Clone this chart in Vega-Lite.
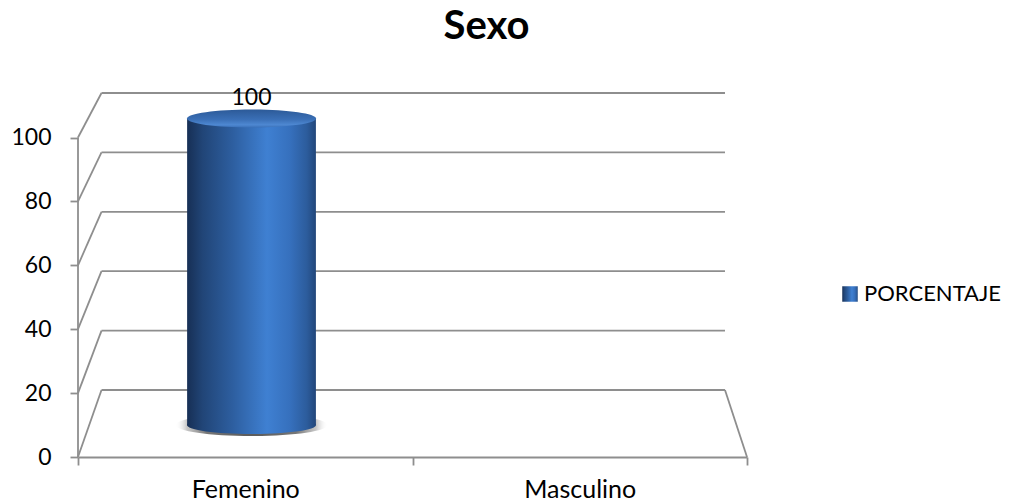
{
  "$schema": "https://vega.github.io/schema/vega-lite/v6.json",
  "width": 669,
  "height": 377,
  "autosize": {"type": "none"},
  "padding": {"left": 78, "top": 80, "right": 262, "bottom": 46},
  "background": "white",
  "title": {"text": "Sexo", "font": "Lato", "fontSize": 40, "fontWeight": "bold", "color": "#000000", "anchor": "middle", "dx": 74, "offset": 1, "baseline": "alphabetic"},
  "config": {"view": {"stroke": null}},
  "data": {"values": [{"sexo": "Femenino", "porcentaje": 100}, {"sexo": "Masculino", "porcentaje": 0}]},
  "resolve": {"scale": {"x": "independent", "y": "independent", "color": "independent"}},
  "layer": [
    {
      "data": {"values": [{"v": 0}, {"v": 20}, {"v": 40}, {"v": 60}, {"v": 80}, {"v": 100}]},
      "mark": {"type": "rule", "color": "#8e8e8e", "strokeWidth": 1.8},
      "encoding": {
        "x": {"datum": 0, "type": "quantitative", "scale": {"domain": [-0.0754, 2.0706], "nice": false, "zero": false}, "axis": null},
        "x2": {"datum": 2},
        "y": {"field": "v", "type": "quantitative", "scale": {"domain": [-22.56, 104.38], "nice": false, "zero": false}, "axis": null}
      }
    },
    {
      "data": {"values": [{"v": 0}, {"v": 20}, {"v": 40}, {"v": 60}, {"v": 80}, {"v": 100}]},
      "mark": {"type": "rule", "color": "#8e8e8e", "strokeWidth": 1.8},
      "encoding": {
        "x": {"datum": 0, "type": "quantitative", "scale": {"domain": [0, 2], "nice": false, "zero": false}, "axis": null},
        "y": {"field": "v", "type": "quantitative", "scale": {"domain": [0, 118], "nice": false, "zero": false}, "axis": null},
        "x2": {"value": {"expr": "scale('layer_0_x', 0)"}},
        "y2": {"value": {"expr": "scale('layer_0_y', datum.v)"}}
      }
    },
    {
      "data": {"values": [{"v": 0}]},
      "mark": {"type": "rule", "color": "#8e8e8e", "strokeWidth": 1.8},
      "encoding": {
        "x": {"datum": 2, "type": "quantitative", "scale": {"domain": [0, 2], "nice": false, "zero": false}, "axis": null},
        "y": {"field": "v", "type": "quantitative", "scale": {"domain": [0, 118], "nice": false, "zero": false}, "axis": null},
        "x2": {"value": {"expr": "scale('layer_0_x', 2)"}},
        "y2": {"value": {"expr": "scale('layer_0_y', datum.v)"}}
      }
    },
    {
      "data": {"values": [{"v": 0}]},
      "mark": {"type": "rule", "color": "#8e8e8e", "strokeWidth": 1.8},
      "encoding": {
        "x": {"datum": 0, "type": "quantitative", "scale": {"domain": [0, 2], "nice": false, "zero": false}, "axis": null},
        "y": {"datum": 0, "type": "quantitative", "scale": {"domain": [0, 118], "nice": false, "zero": false}, "axis": null},
        "y2": {"datum": 100}
      }
    },
    {
      "mark": {"type": "bar", "opacity": 0},
      "encoding": {
        "x": {
          "field": "sexo", "type": "nominal",
          "scale": {"type": "band", "domain": ["Femenino", "Masculino"], "paddingInner": 0, "paddingOuter": 0},
          "axis": {"orient": "bottom", "title": null, "labelAngle": 0, "tickBand": "extent", "domainColor": "#8e8e8e", "domainWidth": 1.8, "tickColor": "#8e8e8e", "tickWidth": 1.8, "tickSize": 8, "labelFont": "Lato", "labelFontSize": 25, "labelColor": "#000000", "labelPadding": 12, "grid": false}
        },
        "y": {
          "field": "porcentaje", "type": "quantitative",
          "scale": {"domain": [0, 118], "nice": false, "zero": false},
          "axis": {"orient": "left", "title": null, "values": [0, 20, 40, 60, 80, 100], "domain": false, "grid": false, "tickColor": "#8e8e8e", "tickWidth": 1.8, "tickSize": 8, "labelFont": "Lato", "labelFontSize": 23, "labelColor": "#000000", "labelPadding": 19}
        }
      }
    },
    {
      "transform": [{"filter": "datum.porcentaje > 0"}],
      "encoding": {
        "x": {"field": "sexo", "type": "nominal", "scale": {"type": "band", "domain": ["Femenino", "Masculino"], "paddingInner": 0, "paddingOuter": 0.0389}, "axis": null},
        "y": {"field": "porcentaje", "type": "quantitative", "scale": {"domain": [-10.44, 112.56], "nice": false, "zero": false}, "axis": null}
      },
      "layer": [
        {
          "mark": {"type": "point", "shape": "M-1,0A1,0.145,0,1,1,1,0A1,0.145,0,1,1,-1,0Z", "size": 23104, "filled": true, "opacity": 1, "strokeWidth": 0,
            "fill": {"gradient": "radial", "x1": 0.5, "y1": 0.5, "x2": 0.5, "y2": 0.5, "r1": 0, "r2": 0.5,
              "stops": [{"offset": 0, "color": "#555555"}, {"offset": 0.6, "color": "#777777"}, {"offset": 0.85, "color": "rgba(160,160,160,0.6)"}, {"offset": 1, "color": "rgba(255,255,255,0)"}]}},
          "encoding": {"y": {"datum": 0}}
        },
        {
          "mark": {"type": "point", "shape": "M-1,0A1,0.14,0,1,1,1,0A1,0.14,0,1,1,-1,0Z", "size": 16641, "filled": true, "opacity": 1, "strokeWidth": 0,
            "fill": {"gradient": "linear", "x1": 0, "y1": 0, "x2": 1, "y2": 0,
              "stops": [{"offset": 0, "color": "#172f55"}, {"offset": 0.12, "color": "#214577"}, {"offset": 0.35, "color": "#2d5e9f"}, {"offset": 0.62, "color": "#3f80d2"}, {"offset": 0.8, "color": "#3670bd"}, {"offset": 0.93, "color": "#2c5c9c"}, {"offset": 1, "color": "#22467a"}]}},
          "encoding": {"y": {"datum": 0}}
        },
        {
          "mark": {"type": "bar", "width": {"band": 0.4}},
          "encoding": {
            "color": {
              "datum": "PORCENTAJE",
              "scale": {"range": [{"expr": "{gradient: 'linear', x1: 0, y1: 0, x2: 1, y2: 0, stops: [{offset: 0, color: '#172f55'}, {offset: 0.12, color: '#214577'}, {offset: 0.35, color: '#2d5e9f'}, {offset: 0.62, color: '#3f80d2'}, {offset: 0.8, color: '#3670bd'}, {offset: 0.93, color: '#2c5c9c'}, {offset: 1, color: '#22467a'}]}"}]},
              "legend": {"orient": "none", "legendX": 761, "legendY": 203, "title": null, "symbolType": "square", "symbolSize": 240, "symbolStrokeWidth": 0, "labelFont": "Lato", "labelFontSize": 22, "labelColor": "#000000", "labelOffset": 3, "padding": 0}
            }
          }
        },
        {
          "mark": {"type": "point", "shape": "M-1,0A1,0.14,0,1,1,1,0A1,0.14,0,1,1,-1,0Z", "size": 16641, "filled": true, "opacity": 1, "strokeWidth": 0,
            "fill": {"gradient": "linear", "x1": 0, "y1": 0, "x2": 0, "y2": 1,
              "stops": [{"offset": 0, "color": "#2c5a98"}, {"offset": 0.55, "color": "#3a6fb6"}, {"offset": 0.85, "color": "#4e88d2"}, {"offset": 1, "color": "#3a70b8"}]}}
        },
        {
          "mark": {"type": "text", "dy": -13, "baseline": "alphabetic", "font": "Lato", "fontSize": 23, "color": "#000000"},
          "encoding": {"text": {"field": "porcentaje", "type": "quantitative"}}
        }
      ]
    }
  ]
}
